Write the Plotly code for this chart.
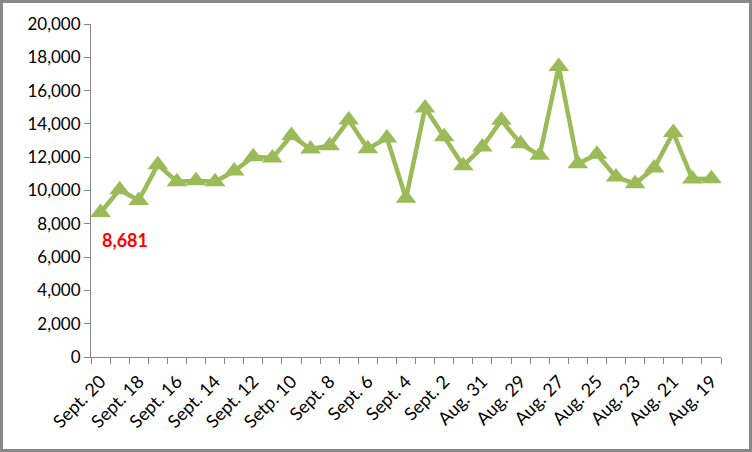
import plotly.graph_objects as go

dates = ["Sept. 20", "Sept. 19", "Sept. 18", "Sept. 17", "Sept. 16", "Sept. 15", "Sept. 14",
         "Sept. 13", "Sept. 12", "Sept. 11", "Setp. 10", "Sept. 9", "Sept. 8", "Sept. 7",
         "Sept. 6", "Sept. 5", "Sept. 4", "Sept. 3", "Sept. 2", "Sept. 1", "Aug. 31",
         "Aug. 30", "Aug. 29", "Aug. 28", "Aug. 27", "Aug. 26", "Aug. 25", "Aug. 24",
         "Aug. 23", "Aug. 22", "Aug. 21", "Aug. 20", "Aug. 19"]
values = [8681, 10050, 9400, 11550, 10530, 10590, 10530, 11170, 12030, 11950, 13300,
          12490, 12690, 14230, 12510, 13150, 9530, 14950, 13230, 11480, 12610, 14220,
          12810, 12110, 17440, 11610, 12170, 10810, 10410, 11350, 13480, 10690, 10710]
y_ticks = list(range(0, 20001, 2000))

idx = list(range(len(dates)))
shown_idx = idx[::2]
shown_labels = [dates[i] for i in shown_idx]

fig = go.Figure()
fig.add_trace(go.Scatter(
    x=idx, y=values, mode="lines+markers",
    line=dict(color="#9BBB59", width=4.5),
    marker=dict(symbol="triangle-up", size=18, color="#9BBB59"),
    hoverinfo="y",
))

fig.add_annotation(
    x=idx[0], y=values[0], text="<b>{:,}</b>".format(values[0]),
    showarrow=False, xanchor="left", yanchor="top", xshift=-1, yshift=-15,
    font=dict(family="Lato, Open Sans, sans-serif", size=18, color="#FF0000"),
)

axis_gray = "#868686"
fig.update_layout(
    width=752, height=452,
    margin=dict(l=91, r=31, t=24, b=95),
    paper_bgcolor="white", plot_bgcolor="white",
    showlegend=False,
    font=dict(family="Lato, Open Sans, sans-serif", size=16, color="#000000"),
    xaxis=dict(
        range=[-0.5, len(dates) - 0.5],
        tickmode="array", tickvals=shown_idx, ticktext=shown_labels,
        tickangle=-45, ticks="", showgrid=False, zeroline=False,
        showline=True, linecolor=axis_gray, linewidth=1,
        minor=dict(tick0=-0.5, dtick=1, ticks="outside", ticklen=6,
                   tickcolor=axis_gray, showgrid=False),
        tickfont=dict(size=18), ticklabelstandoff=6,
    ),
    yaxis=dict(
        range=[0, 20000], tickmode="array", tickvals=y_ticks,
        tickformat=",", ticks="outside", ticklen=6, tickcolor=axis_gray,
        showgrid=False, zeroline=False,
        showline=True, linecolor=axis_gray, linewidth=1,
        tickfont=dict(size=17),
    ),
    shapes=[dict(type="rect", xref="paper", yref="paper",
                 x0=(1.5 - 91) / 630, x1=(750.5 - 91) / 630,
                 y0=(357 - 450.5) / 333, y1=(357 - 1.5) / 333,
                 line=dict(color="#888888", width=3), layer="below")],
)

fig.write_html("out.html")
